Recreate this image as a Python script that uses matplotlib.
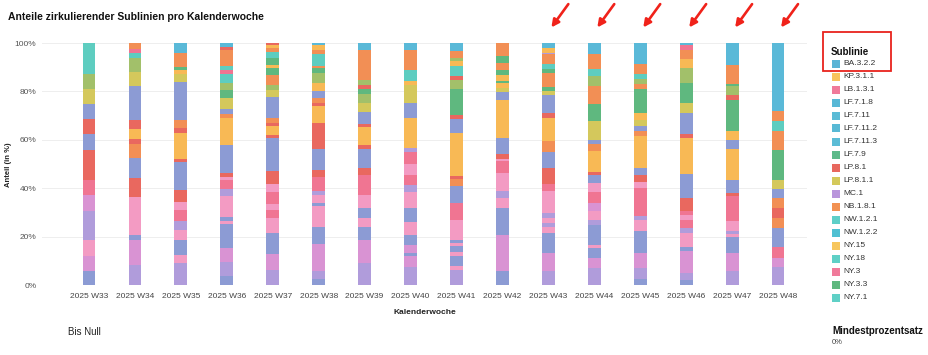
import matplotlib.pyplot as plt
from matplotlib.patches import Rectangle

plt.rcParams['font.family'] = ['Liberation Sans', 'DejaVu Sans']

W, H = 929, 355


def fx(px):
  return px / W


def fy(py):
  return 1 - py / H


weeks = ["2025 W33", "2025 W34", "2025 W35", "2025 W36", "2025 W37", "2025 W38",
         "2025 W39", "2025 W40", "2025 W41", "2025 W42", "2025 W43", "2025 W44",
         "2025 W45", "2025 W46", "2025 W47", "2025 W48"]

# shares (in %) per week, stacked from bottom to top: (lineage group, share)
w33 = [("B", 5.6), ("M", 6.2), ("P", 6.6), ("L", 12.3), ("M", 6.3), ("R", 6.5), ("C", 12.4),
       ("B", 6.5), ("C", 6.2), ("B", 6.3), ("V", 6.2), ("A", 6.2), ("T", 12.7)]
w34 = [("L", 8.4), ("M", 10.0), ("B", 2.1), ("P", 15.8), ("C", 7.8), ("B", 8.3), ("O", 6.0),
       ("C", 1.8), ("Y", 4.1), ("C", 4.0), ("B", 13.8), ("V", 6.0), ("A", 5.8), ("T", 1.8),
       ("R", 2.0), ("O", 2.3)]
w35 = [("L", 9.0), ("P", 3.2), ("B", 6.5), ("P", 4.1), ("L", 3.7), ("R", 4.3), ("P", 3.7),
       ("C", 4.8), ("B", 11.4), ("C", 1.4), ("Y", 10.9), ("C", 1.8), ("O", 3.4), ("B", 15.8),
       ("V", 3.0), ("Y", 1.8), ("G", 1.4), ("O", 5.5), ("S", 4.3)]
w36 = [("B", 3.6), ("L", 5.7), ("M", 6.0), ("B", 9.9), ("P", 1.4), ("B", 1.4), ("P", 8.7),
       ("L", 2.8), ("R", 3.7), ("P", 1.4), ("C", 1.8), ("B", 11.4), ("Y", 11.3), ("O", 1.7),
       ("B", 1.8), ("V", 4.5), ("G", 3.3), ("A", 3.2), ("T", 3.4), ("R", 1.8), ("T", 1.7),
       ("O", 6.5), ("C", 1.5), ("S", 1.5)]
w37 = [("L", 6.4), ("M", 6.4), ("B", 8.7), ("P", 6.2), ("R", 3.4), ("P", 2.3), ("R", 5.0),
       ("P", 3.3), ("C", 5.5), ("B", 13.5), ("C", 1.4), ("Y", 3.4), ("C", 1.4), ("O", 2.1),
       ("B", 8.5), ("V", 3.2), ("A", 2.1), ("O", 3.9), ("G", 3.0), ("Y", 1.4), ("G", 2.8),
       ("T", 2.5), ("O", 1.7), ("Y", 1.1), ("C", 0.8)]
w38 = [("B", 2.5), ("L", 3.1), ("M", 11.3), ("B", 6.9), ("P", 8.7), ("B", 1.4), ("P", 3.4),
       ("L", 1.4), ("R", 2.8), ("R", 3.0), ("C", 3.2), ("B", 8.3), ("C", 8.7), ("C", 2.3),
       ("Y", 6.9), ("C", 1.4), ("O", 2.1), ("B", 2.8), ("Y", 3.4), ("A", 4.1), ("G", 1.8),
       ("O", 1.0), ("T", 4.8), ("O", 1.7), ("Y", 2.2), ("S", 0.8)]
w39 = [("L", 9.0), ("M", 9.7), ("B", 5.1), ("P", 3.9), ("B", 4.1), ("P", 5.5), ("R", 5.5),
       ("R", 2.8), ("C", 2.8), ("B", 7.6), ("C", 1.8), ("Y", 7.4), ("C", 1.4), ("B", 5.0),
       ("V", 3.7), ("A", 3.7), ("G", 1.8), ("C", 2.0), ("A", 1.8), ("O", 12.7), ("S", 2.7)]
w40 = [("L", 7.3), ("M", 4.5), ("B", 1.4), ("M", 3.4), ("B", 4.1), ("P", 5.5), ("B", 5.5),
       ("P", 6.9), ("L", 2.8), ("R", 4.1), ("P", 4.4), ("R", 5.2), ("L", 1.4), ("Y", 12.4),
       ("B", 6.2), ("V", 7.6), ("Y", 1.4), ("T", 4.8), ("O", 8.3), ("S", 2.8)]
w41 = [("L", 6.3), ("P", 1.4), ("B", 4.1), ("P", 1.7), ("B", 2.5), ("P", 1.4), ("B", 1.4),
       ("P", 4.1), ("P", 4.1), ("R", 6.9), ("B", 6.9), ("O", 2.8), ("C", 1.4), ("Y", 17.9),
       ("B", 5.5), ("C", 1.8), ("G", 10.6), ("A", 4.1), ("C", 1.4), ("T", 4.1), ("Y", 2.1),
       ("A", 1.4), ("O", 2.8), ("S", 3.3)]
w42 = [("B", 5.6), ("M", 15.2), ("B", 11.0), ("P", 4.1), ("L", 2.8), ("P", 7.6), ("R", 1.4),
       ("R", 3.4), ("P", 1.1), ("C", 1.9), ("B", 6.6), ("Y", 15.8), ("B", 3.4), ("V", 1.7),
       ("Y", 1.8), ("G", 1.0), ("Y", 2.5), ("G", 2.1), ("O", 2.8), ("G", 2.8), ("O", 5.4)]
w43 = [("L", 5.6), ("M", 7.6), ("B", 8.3), ("P", 2.3), ("L", 1.8), ("P", 2.1), ("L", 2.1),
       ("P", 3.7), ("P", 5.5), ("R", 2.8), ("C", 6.6), ("B", 6.6), ("O", 4.4), ("Y", 9.6),
       ("C", 2.1), ("B", 7.6), ("V", 1.4), ("G", 1.7), ("O", 5.9), ("G", 1.4), ("T", 2.3),
       ("O", 3.9), ("L", 0.7), ("Y", 2.1), ("S", 1.9)]
w44 = [("L", 7.0), ("M", 4.1), ("B", 4.1), ("P", 1.4), ("B", 8.3), ("L", 2.1), ("P", 3.4),
       ("M", 3.4), ("R", 1.4), ("R", 3.2), ("P", 3.7), ("B", 3.4), ("C", 1.4), ("Y", 8.3),
       ("O", 3.0), ("B", 1.8), ("V", 7.9), ("G", 6.9), ("O", 7.6), ("A", 3.9), ("T", 2.8),
       ("O", 6.2), ("S", 4.7)]
w45 = [("B", 2.5), ("L", 4.5), ("M", 6.2), ("B", 9.0), ("P", 4.8), ("L", 1.4), ("R", 3.4),
       ("R", 8.3), ("P", 2.5), ("C", 2.8), ("B", 3.0), ("Y", 13.1), ("O", 2.1), ("B", 2.1),
       ("V", 2.5), ("Y", 3.0), ("G", 9.6), ("O", 2.1), ("A", 2.1), ("T", 2.1), ("O", 4.1),
       ("S", 8.8)]
w46 = [("B", 2.0), ("L", 3.0), ("M", 9.2), ("B", 1.4), ("P", 5.9), ("L", 2.1), ("R", 3.4),
       ("P", 2.1), ("R", 1.4), ("C", 5.5), ("B", 9.9), ("Y", 14.9), ("C", 1.4), ("B", 9.0),
       ("V", 4.1), ("G", 8.3), ("A", 6.2), ("Y", 3.4), ("O", 4.1), ("R", 1.8), ("S", 0.9)]
w47 = [("L", 5.6), ("M", 7.6), ("B", 6.5), ("P", 1.4), ("L", 1.4), ("P", 4.1), ("R", 7.3),
       ("R", 2.8), ("C", 1.4), ("B", 5.1), ("Y", 12.8), ("B", 4.1), ("Y", 3.7), ("G", 12.8),
       ("C", 1.8), ("A", 3.7), ("G", 1.0), ("O", 8.0), ("S", 8.9)]
w48 = [("L", 7.3), ("M", 3.9), ("R", 4.4), ("B", 8.0), ("O", 4.1), ("C", 4.1), ("O", 4.1),
       ("B", 3.7), ("V", 3.9), ("G", 12.4), ("O", 7.6), ("T", 4.1), ("O", 4.4), ("S", 28.0)]

week_segments = [w33, w34, w35, w36, w37, w38, w39, w40, w41, w42, w43, w44, w45, w46, w47, w48]

# weeks marked with red arrows
marked_weeks = ["2025 W43", "2025 W44", "2025 W45", "2025 W46", "2025 W47", "2025 W48"]

legend_names = ["BA.3.2.2", "KP.3.1.1", "LB.1.3.1", "LF.7.1.8", "LF.7.11", "LF.7.11.2",
                "LF.7.11.3", "LF.7.9", "LP.8.1", "LP.8.1.1", "MC.1", "NB.1.8.1", "NW.1.2.1",
                "NW.1.2.2", "NY.15", "NY.18", "NY.3", "NY.3.3", "NY.7.1"]
legend_colors = ["#5ab4d6", "#f8c35e", "#f07a9a", "#58b8d6", "#5abbd6", "#58b9d5", "#5bbcd6",
                 "#5dba8a", "#e8685e", "#d4c95a", "#b995dc", "#f29152", "#5ecfc8", "#4fc0d2",
                 "#f7c65d", "#5fd0c6", "#f07a9a", "#5fb87f", "#5fd0c6"]

group_colors = {
  "L": "#b09cdb", "M": "#d993d3", "B": "#8c9bd4", "P": "#f39bc3", "R": "#f07592",
  "C": "#e9685f", "O": "#f28f55", "Y": "#f8b955", "V": "#d4c85c", "A": "#a2c06a",
  "G": "#5fb87f", "T": "#5ecdc0", "S": "#5ab9d8",
}


def main():
  fig = plt.figure(figsize=(W / 100, H / 100), dpi=100)
  ax = fig.add_axes([fx(42), fy(285), (807 - 42) / W, (285 - 43) / H])

  for i, segs in enumerate(week_segments):
    total = sum(v for _, v in segs)
    bottom = 0
    for grp, v in segs:
      share = v * 100 / total
      ax.bar(i, share, bottom=bottom, width=0.28, color=group_colors[grp], linewidth=0)
      bottom += share

  ax.set_xlim(-1.023, 15.63)
  ax.set_ylim(0, 100)
  ax.set_xticks(range(len(weeks)))
  ax.set_xticklabels(weeks, fontsize=6, color='#444444')
  ax.set_yticks([0, 20, 40, 60, 80, 100])
  ax.set_yticklabels([f"{t}%" for t in [0, 20, 40, 60, 80, 100]], fontsize=6, color='#555555')
  ax.tick_params(axis='both', length=0)
  ax.tick_params(axis='x', pad=6)
  ax.tick_params(axis='y', pad=4)
  for s in ax.spines.values():
    s.set_visible(False)
  ax.grid(axis='y', color='#eeeeee', linewidth=0.7)
  ax.set_axisbelow(True)
  ax.set_xlabel("Kalenderwoche", fontsize=6, fontweight='bold', labelpad=6, color='#222222')

  fig.text(fx(9), fy(165), "Anteil (in %)", rotation=90, fontsize=5.5, fontweight='bold',
           ha='center', va='center', color='#222222')
  fig.text(fx(8), fy(17), "Anteile zirkulierender Sublinien pro Kalenderwoche",
           fontsize=7.5, fontweight='bold', ha='left', va='center', color='#111111')

  # red arrows above the last weeks
  for wk in marked_weeks:
    i = weeks.index(wk)
    ax.annotate("", xy=(i + 0.03, 1.055), xytext=(i + 0.47, 1.17),
                xycoords=('data', 'axes fraction'), textcoords=('data', 'axes fraction'),
                arrowprops=dict(arrowstyle='-|>', color='#f0221a', lw=1.9, mutation_scale=11),
                annotation_clip=False)

  # legend
  fig.text(fx(831), fy(52), "Sublinie", fontsize=7, fontweight='bold', ha='left', va='center',
           color='#111111')
  for k, (name, col) in enumerate(zip(legend_names, legend_colors)):
    yc = 63.5 + k * 13.0
    fig.add_artist(Rectangle((fx(832), fy(yc + 4)), 8 / W, 8 / H, transform=fig.transFigure,
                             color=col, linewidth=0))
    fig.text(fx(843), fy(yc), name, fontsize=6, ha='left', va='center', color='#333333')
  fig.add_artist(Rectangle((fx(823), fy(70.5)), 68 / W, 39 / H, transform=fig.transFigure,
                           fill=False, edgecolor='#e8231c', linewidth=1.3))

  fig.text(fx(68), fy(332), "Bis Null", fontsize=7, ha='left', va='center', color='#222222')
  fig.text(fx(832), fy(331), "Mindestprozentsatz", fontsize=7, fontweight='bold', ha='left',
           va='center', color='#111111')
  fig.text(fx(832), fy(343), "0%", fontsize=5.5, ha='left', va='center', color='#444444')

  fig.savefig("out.png", dpi=100)


if __name__ == '__main__':
  main()
